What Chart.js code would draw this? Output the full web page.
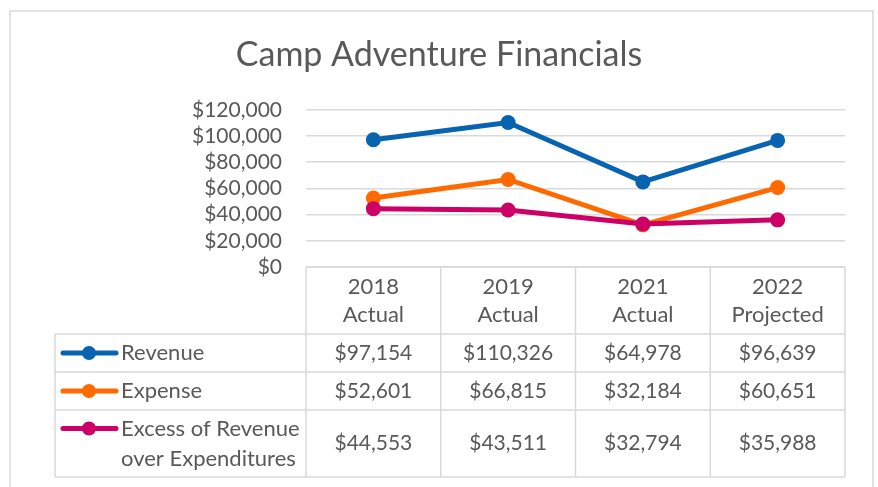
<!DOCTYPE html>
<html>
<head>
<meta charset="utf-8">
<script src="https://cdn.jsdelivr.net/npm/chart.js@4.4.1/dist/chart.umd.min.js"></script>
<style>
  html, body { margin: 0; padding: 0; background: #fff; }
  #wrap { width: 878px; height: 487px; }
</style>
</head>
<body>
<div id="wrap"><canvas id="campChart" width="878" height="487"></canvas></div>
<script>
// --- data ---
const years = ["2018", "2019", "2021", "2022"];
const yearNotes = ["Actual", "Actual", "Actual", "Projected"];
const revenue = [97154, 110326, 64978, 96639];
const expense = [52601, 66815, 32184, 60651];
const excess = [44553, 43511, 32794, 35988];
const seriesNames = ["Revenue", "Expense", ["Excess of Revenue", "over Expenditures"]];
const yTicks = [0, 20000, 40000, 60000, 80000, 100000, 120000];

const TEXT = "#595959";
const LINE = "#d9d9d9";
const FONT = "Lato, 'Open Sans', sans-serif";
const money = (v) => "$" + v.toLocaleString("en-US");

// outer frame of the chart object
const framePlugin = {
  id: "frame",
  beforeDraw(chart) {
    const ctx = chart.ctx;
    ctx.save();
    ctx.fillStyle = "#fff";
    ctx.fillRect(0, 0, chart.width, chart.height);
    ctx.strokeStyle = LINE;
    ctx.lineWidth = 1.5;
    ctx.strokeRect(10, 11, 863, 500);
    ctx.restore();
  },
};

// data table under the plot, columns follow the x scale bands
const tablePlugin = {
  id: "dataTable",
  afterDraw(chart) {
    const ctx = chart.ctx;
    const xs = chart.scales.x;
    const area = chart.chartArea;
    const band = area.width / years.length;
    const top = area.bottom;
    const rows = [top, top + 67, top + 105, top + 143, top + 210];
    const tableLeft = 55;

    ctx.save();
    ctx.strokeStyle = LINE;
    ctx.lineWidth = 1.5;
    ctx.beginPath();
    // header row, only over the data columns
    ctx.moveTo(area.left, rows[0]);
    ctx.lineTo(area.right, rows[0]);
    for (let r = 1; r < rows.length; r++) {
      ctx.moveTo(tableLeft, rows[r]);
      ctx.lineTo(area.right, rows[r]);
    }
    for (let i = 0; i <= years.length; i++) {
      const x = area.left + band * i;
      ctx.moveTo(x, rows[0]);
      ctx.lineTo(x, rows[4]);
    }
    ctx.moveTo(tableLeft, rows[1]);
    ctx.lineTo(tableLeft, rows[4]);
    ctx.stroke();

    ctx.fillStyle = TEXT;
    ctx.font = "22px " + FONT;
    ctx.textAlign = "center";
    ctx.textBaseline = "middle";
    years.forEach((y, i) => {
      const cx = xs.getPixelForValue(i);
      ctx.fillText(y, cx, rows[0] + 20);
      ctx.fillText(yearNotes[i], cx, rows[0] + 48);
    });

    chart.data.datasets.forEach((ds, r) => {
      const y0 = rows[r + 1], y1 = rows[r + 2];
      const mid = (y0 + y1) / 2;
      ctx.font = "21px " + FONT;
      ds.data.forEach((v, i) => {
        ctx.fillStyle = TEXT;
        ctx.textAlign = "center";
        ctx.fillText(money(v), xs.getPixelForValue(i), mid);
      });
      const name = seriesNames[r];
      const lines = Array.isArray(name) ? name : [name];
      const firstY = lines.length > 1 ? mid - 15 : mid;
      // legend key
      ctx.strokeStyle = ds.borderColor;
      ctx.lineWidth = 5;
      ctx.lineCap = "round";
      ctx.beginPath();
      ctx.moveTo(63, firstY);
      ctx.lineTo(116, firstY);
      ctx.stroke();
      ctx.fillStyle = ds.borderColor;
      ctx.beginPath();
      ctx.arc(89, firstY, 7, 0, Math.PI * 2);
      ctx.fill();
      ctx.fillStyle = TEXT;
      ctx.textAlign = "left";
      ctx.font = "22px " + FONT;
      lines.forEach((t, k) => ctx.fillText(t, 121, firstY + k * 30));
    });
    ctx.restore();
  },
};

const makeSet = (label, data, color, order) => ({
  label: label,
  data: data,
  borderColor: color,
  backgroundColor: color,
  borderWidth: 5,
  pointRadius: 7.5,
  pointHoverRadius: 7.5,
  pointBorderWidth: 0,
  tension: 0,
  order: order,
});

new Chart(document.getElementById("campChart"), {
  type: "line",
  data: {
    labels: years,
    datasets: [
      makeSet("Revenue", revenue, "#0864b0", 3),
      makeSet("Expense", expense, "#ff6a00", 2),
      makeSet("Excess of Revenue over Expenditures", excess, "#cc0066", 1),
    ],
  },
  options: {
    responsive: false,
    animation: false,
    events: [],
    layout: { padding: { left: 33, right: 33, top: 0, bottom: 0 } },
    plugins: {
      legend: { display: false },
      tooltip: { enabled: false },
      title: {
        display: true,
        text: "Camp Adventure Financials",
        color: TEXT,
        font: { family: FONT, size: 34, weight: "normal" },
        padding: { top: 35, bottom: 34 },
      },
    },
    scales: {
      x: {
        offset: true,
        ticks: { display: false },
        grid: { display: false, drawTicks: false },
        border: { display: false },
        afterFit: (s) => { s.height = 220; },
      },
      y: {
        min: 0,
        max: 120000,
        afterFit: (s) => { s.width = 273; },
        afterBuildTicks: (s) => { s.ticks = yTicks.map((v) => ({ value: v })); },
        ticks: {
          color: TEXT,
          padding: 24,
          autoSkip: false,
          font: { family: FONT, size: 21, lineHeight: 1 },
          callback: (v) => money(v),
        },
        grid: { color: LINE, lineWidth: 1.5, drawTicks: false },
        border: { display: false },
      },
    },
  },
  plugins: [framePlugin, tablePlugin],
});
</script>
</body>
</html>
